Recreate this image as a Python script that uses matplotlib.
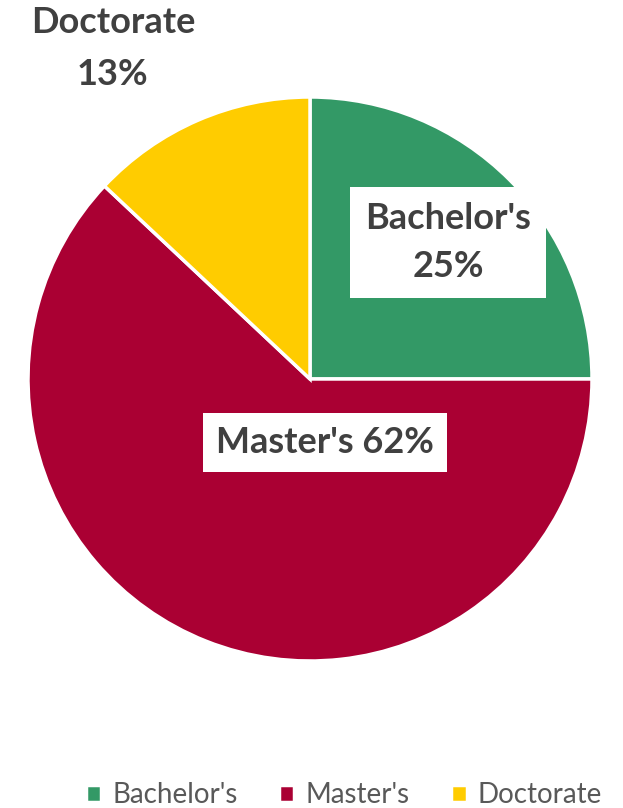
import matplotlib
matplotlib.use('Agg')
import matplotlib.pyplot as plt
import numpy as np

# data
degrees = ["Bachelor's", "Master's", "Doctorate"]
shares = np.array([25, 62, 13])
colors = ['#339966', '#AA0033', '#FFCC00']

plt.rcParams['font.family'] = ['Lato', 'DejaVu Sans']

W, H = 623, 808
fig = plt.figure(figsize=(W / 100, H / 100), dpi=100)
cx, cy, r = 310, 379, 282
ax = fig.add_axes([(cx - r) / W, (H - cy - r) / H, 2 * r / W, 2 * r / H])

wedges, _ = ax.pie(shares, colors=colors, startangle=90, counterclock=False,
                   radius=1, wedgeprops=dict(edgecolor='white', linewidth=2.5))
ax.set_xlim(-1, 1)
ax.set_ylim(-1, 1)
ax.set_aspect('auto')
ax.axis('off')

txt = dict(fontsize=26, fontweight='bold', color='#404040', ha='center', va='center')

# label boxes
ax.text(0.489, 0.485, f"{degrees[0]}\n{shares[0]}%", linespacing=1.55,
        bbox=dict(facecolor='white', edgecolor='none', boxstyle='square,pad=0.42'), **txt)
ax.text(0.053, -0.224, f"{degrees[1]} {shares[1]}%",
        bbox=dict(facecolor='white', edgecolor='none', boxstyle='square,pad=0.36'), **txt)
ax.text(-0.699, 1.172, f"{degrees[2]}\n{shares[2]}%", linespacing=1.7, **txt)

fig.legend(wedges, degrees, loc='center', bbox_to_anchor=(0.552, 1 - 795 / H),
           ncol=3, frameon=False, fontsize=20, labelcolor='#595959',
           handlelength=0.55, handleheight=0.55, handletextpad=0.4, columnspacing=1.5)

fig.savefig('out.png', dpi=100, facecolor='white')
